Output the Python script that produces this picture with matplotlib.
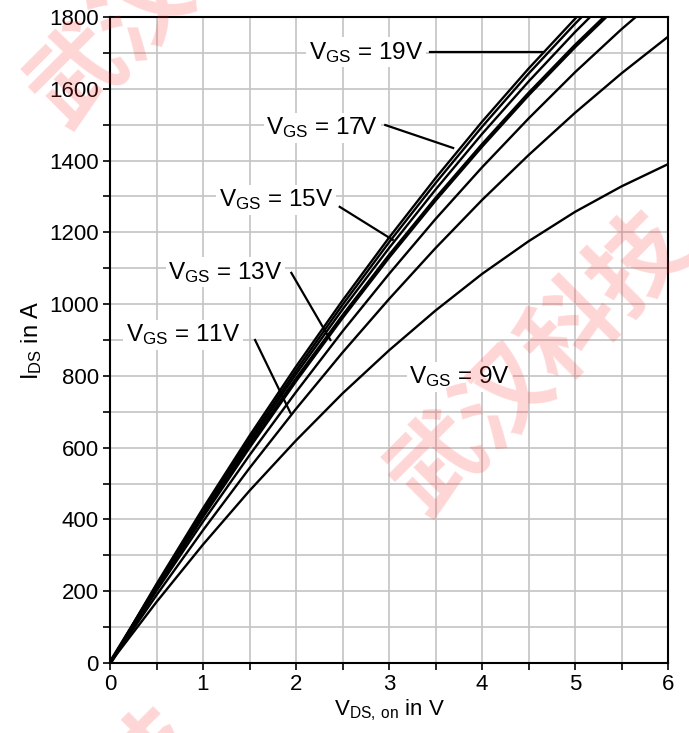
import matplotlib
matplotlib.use('Agg')
import matplotlib.pyplot as plt
from matplotlib.ticker import MultipleLocator

plt.rcParams['font.family'] = ['Liberation Sans', 'DejaVu Sans']
plt.rcParams['mathtext.fontset'] = 'custom'
plt.rcParams['mathtext.rm'] = 'Liberation Sans'

# V_DS,on sample points (V)
v_ds = [0, 0.5, 1.0, 1.5, 2.0, 2.5, 3.0, 3.5, 4.0, 4.5, 5.0, 5.5, 6.0]

# I_DS (A), one list per curve
i_c1 = [0, 220, 431, 633, 826, 1010, 1185, 1351, 1508, 1656, 1795, 1925, 2045]
i_c2 = [0, 217, 425, 624, 815, 998, 1172, 1337, 1494, 1642, 1781, 1912, 2034]
i_c3 = [0, 214, 419, 616, 805, 985, 1156, 1319, 1474, 1620, 1758, 1887, 2008]
i_c4 = [0, 210, 411, 604, 789, 965, 1133, 1292, 1442, 1585, 1719, 1844, 1961]
i_c5 = [0, 201, 394, 579, 755, 924, 1084, 1237, 1381, 1517, 1646, 1766, 1877]
i_c6 = [0, 189, 370, 543, 708, 865, 1014, 1156, 1290, 1415, 1533, 1643, 1745]
i_c7 = [0, 170, 330, 480, 620, 751, 871, 982, 1084, 1175, 1257, 1328, 1390]
curves = [i_c1, i_c2, i_c3, i_c4, i_c5, i_c6, i_c7]
widths = [1.7, 1.7, 1.7, 3.0, 1.7, 1.7, 1.7]

# curve labels: text, text position, pointer start, pointer end (data units)
labels = ['19V', '17V', '15V', '13V', '11V', '9V']
label_xy = [(2.75, 1702), (2.28, 1491), (1.785, 1290), (1.24, 1089), (0.785, 914), (3.76, 797)]
ptr_from = [(3.44, 1702), (2.96, 1499), (2.47, 1271), (1.95, 1087), (1.56, 900), None]
ptr_to = [(4.66, 1702), (3.69, 1435), (3.04, 1179), (2.37, 900), (1.94, 697), None]

fig = plt.figure(figsize=(6.89, 7.33), dpi=100)
ax = fig.add_axes([110/689, 1-663/733, 558/689, 646/733])

for i_ds, lw in zip(curves, widths):
    ax.plot(v_ds, i_ds, color='black', lw=lw, zorder=3)

for txt, xy, p0, p1 in zip(labels, label_xy, ptr_from, ptr_to):
    if p0 is not None:
        ax.plot([p0[0], p1[0]], [p0[1], p1[1]], color='black', lw=1.6, zorder=4)
    ax.text(xy[0], xy[1], r'$\mathregular{V_{GS}}$ = ' + txt, fontsize=17.5,
            ha='center', va='center', zorder=5,
            bbox=dict(facecolor='white', edgecolor='none', pad=2))

ax.set_xlim(0, 6)
ax.set_ylim(0, 1800)
ax.xaxis.set_major_locator(MultipleLocator(1))
ax.xaxis.set_minor_locator(MultipleLocator(0.5))
ax.yaxis.set_major_locator(MultipleLocator(200))
ax.yaxis.set_minor_locator(MultipleLocator(100))
ax.grid(True, which='both', color='#c4c4c4', lw=1.2, zorder=0)
ax.set_axisbelow(True)
ax.tick_params(which='both', direction='out', length=5, width=1.2, labelsize=16, pad=3)
for s in ax.spines.values():
    s.set_linewidth(1.5)

ax.set_xlabel(r'$\mathregular{V_{DS,\,on}}$ in V', fontsize=16, labelpad=2)
ax.set_ylabel(r'$\mathregular{I_{DS}}$ in A', fontsize=17, labelpad=4)

# watermark
wm_font = ['Noto Sans CJK SC', 'DejaVu Sans']
wm_kw = dict(fontsize=68, color='#ff3030', alpha=0.2, rotation=45,
             rotation_mode='anchor', va='center', family=wm_font,
             weight='bold', zorder=10)
fig.text(45/689, 1-110/733, '武汉科技', ha='left', **wm_kw)
fig.text(405/689, 1-498/733, '武汉科技', ha='left', **wm_kw)
fig.text(185/689, 1-728/733, '武汉科技', ha='right', **wm_kw)

fig.savefig('out.png', dpi=100)
